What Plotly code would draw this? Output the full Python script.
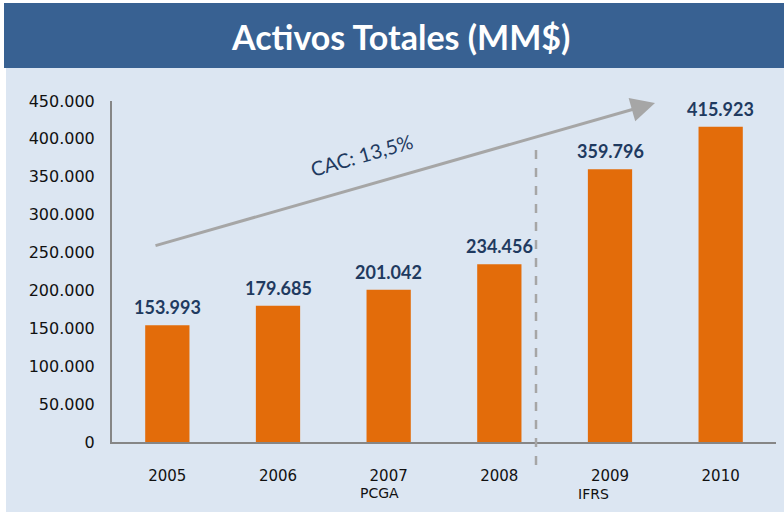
import plotly.graph_objects as go

years = ["2005", "2006", "2007", "2008", "2009", "2010"]
values = [153993, 179685, 201042, 234456, 359796, 415923]
value_labels = ["153.993", "179.685", "201.042", "234.456", "359.796", "415.923"]
y_ticks = [0, 50000, 100000, 150000, 200000, 250000, 300000, 350000, 400000, 450000]

W, H = 784, 512
L, R, T, B = 112, 8, 101, 70
pw, ph = W - L - R, H - T - B

def px(x):
    return (x - L) / pw

def py(y):
    return (H - B - y) / ph

BAND = "#386192"
BG = "#DCE6F2"
ORANGE = "#E36C0A"
NAVY = "#1F3A60"
GRAY = "#A6A6A6"

fig = go.Figure()
fig.add_trace(go.Bar(x=years, y=values, marker=dict(color=ORANGE, line=dict(width=0)),
                     hoverinfo="skip"))

annotations = []
for i, (v, lab) in enumerate(zip(values, value_labels)):
    annotations.append(dict(x=i, y=v, xref="x", yref="y", text=lab, showarrow=False,
                            yshift=18, yanchor="middle", xanchor="center",
                            font=dict(family="Lato", size=18, color=NAVY, weight="bold")))

# title
annotations.append(dict(x=px(400), y=py(37), xref="paper", yref="paper",
                        text="<b>Activos Totales (MM$)</b>", showarrow=False,
                        xanchor="center", yanchor="middle",
                        font=dict(family="Lato", size=34, color="white")))
# arrow
annotations.append(dict(x=px(655), y=py(103), xref="paper", yref="paper",
                        ax=154 - 655, ay=246 - 103, axref="pixel", ayref="pixel",
                        text="", showarrow=True, arrowhead=2, arrowsize=1.6,
                        arrowwidth=3, arrowcolor=GRAY))
annotations.append(dict(x=px(361), y=py(155), xref="paper", yref="paper",
                        text="CAC: 13,5%", showarrow=False, textangle=-16,
                        xanchor="center", yanchor="middle",
                        font=dict(family="Lato", size=20, color=NAVY)))
annotations.append(dict(x=px(379), y=py(493), xref="paper", yref="paper",
                        text="PCGA", showarrow=False, xanchor="center", yanchor="middle",
                        font=dict(family="DejaVu Sans", size=14, color="#111111")))
annotations.append(dict(x=px(593), y=py(494), xref="paper", yref="paper",
                        text="IFRS", showarrow=False, xanchor="center", yanchor="middle",
                        font=dict(family="DejaVu Sans", size=14, color="#111111")))

shapes = [
    dict(type="rect", xref="paper", yref="paper", x0=px(6), x1=px(W + 2), y0=py(H + 2), y1=py(68),
         fillcolor=BG, line=dict(width=0), layer="below"),
    dict(type="rect", xref="paper", yref="paper", x0=px(4), x1=px(W + 2), y0=py(68), y1=py(3),
         fillcolor=BAND, line=dict(width=0), layer="below"),
    dict(type="line", xref="paper", yref="paper", x0=px(536), x1=px(536), y0=py(465), y1=py(147),
         line=dict(color=GRAY, width=2.5, dash="dash")),
]

fig.update_layout(
    width=W, height=H,
    margin=dict(l=L, r=R, t=T, b=B),
    paper_bgcolor="white",
    plot_bgcolor=BG,
    separators=",.",
    showlegend=False,
    bargap=0.6,
    annotations=annotations,
    shapes=shapes,
    xaxis=dict(type="category", range=[-0.5, len(years) - 0.5], showgrid=False,
               showline=True, linecolor="#868686", linewidth=2,
               ticks="", ticklabelstandoff=19,
               tickfont=dict(family="DejaVu Sans", size=15, color="#111111")),
    yaxis=dict(range=[0, 450000], tickvals=y_ticks, tickformat=",d", showgrid=False,
               zeroline=False, showline=True, linecolor="#868686", linewidth=2,
               ticks="", ticklabelstandoff=12,
               tickfont=dict(family="DejaVu Sans", size=16, color="#111111")),
)

fig.write_html("out.html", config={"displayModeBar": False},
               post_script="document.body.style.margin='0px';")
